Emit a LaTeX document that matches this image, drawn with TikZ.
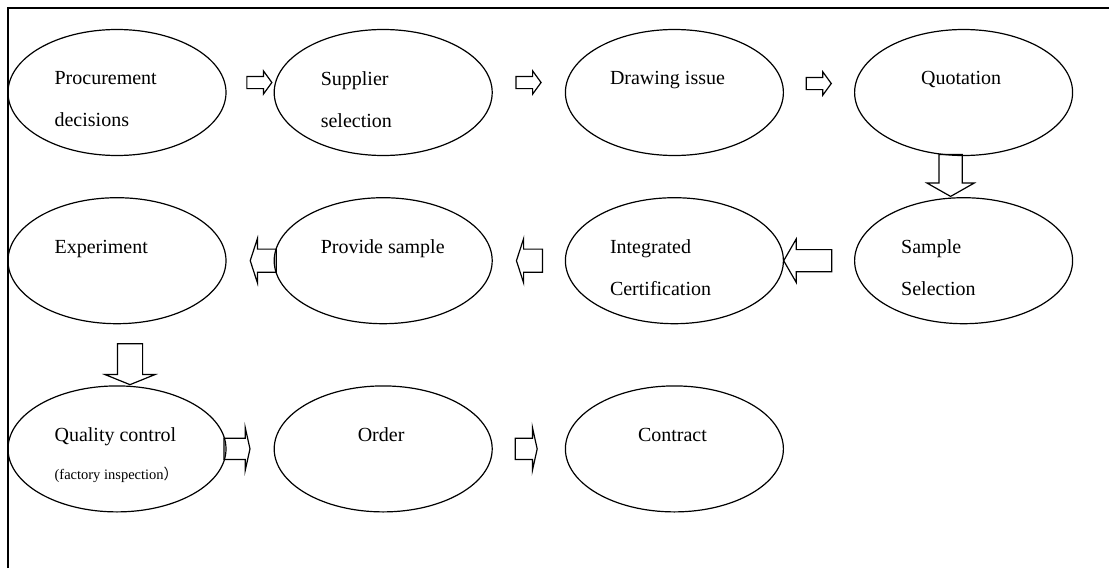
\documentclass[tikz,border=0pt]{standalone}
\usepackage{fontspec}
\setmainfont{Liberation Serif}
\newfontfamily\cjk{Noto Sans CJK SC}
\usetikzlibrary{positioning,shapes.geometric,shapes.arrows}

\tikzset{
  stage/.style={ellipse,draw,line width=1.2pt,minimum width=218pt,minimum height=126pt,inner sep=0pt},
  lbl/.style={font=\fontsize{20}{42}\selectfont,align=left,inner sep=0pt,anchor=north west},
  blk/.style={single arrow,draw,line width=1.2pt,inner xsep=0pt,single arrow head indent=0pt,anchor=tip},
  blkR/.style={blk,minimum height=25pt,inner ysep=5.5pt,minimum width=22pt,single arrow head extend=5.5pt,single arrow tip angle=108},
  blkL/.style={blk,rotate=180,minimum height=26pt,inner ysep=11pt,minimum width=43pt,single arrow head extend=10.5pt,single arrow tip angle=144},
  blkQ/.style={blk,inner ysep=10pt,minimum width=42pt,single arrow head extend=11pt,single arrow tip angle=155}
}

\begin{document}
\begin{tikzpicture}[x=1pt,y=-1pt,node distance=47pt]
  \useasboundingbox (0,0) rectangle (1109,568);
  % frame
  \draw[line width=1.4pt] (8,568) -- (8,7.5);
  \draw[line width=2pt] (7,7.5) -- (1109,7.5);

  % row 1
  \node[stage] (pd) at (117,92.5) {};
  \node[stage,right=of pd] (ss) {};
  \node[stage,right=72pt of ss] (di) {};
  \node[stage,right=70pt of di] (qt) {};
  % row 2
  \node[stage,below=41pt of qt] (sps) {};
  \node[stage,left=70pt of sps] (ic) {};
  \node[stage,left=72pt of ic] (ps) {};
  \node[stage,left=of ps] (ex) {};
  % row 3
  \node[stage,below=61pt of ex] (qc) {};
  \node[stage,right=of qc] (od) {};
  \node[stage,right=72pt of od] (ct) {};

  % labels
  \node[lbl] (pdt) at ([xshift=47pt,yshift=21pt]pd.west) {Procurement\\decisions};
  \node[lbl] (sst) at ([xshift=47pt,yshift=21pt]ss.west) {Supplier\\selection};
  \node[lbl] (dit) at ([xshift=45pt,yshift=21pt]di.west) {Drawing issue};
  \node[lbl] (qtt) at ([xshift=67pt,yshift=21pt]qt.west) {Quotation};
  \node[lbl] (spst) at ([xshift=47pt,yshift=21pt]sps.west) {Sample\\Selection};
  \node[lbl] (ict) at ([xshift=45pt,yshift=21pt]ic.west) {Integrated\\Certification};
  \node[lbl] (pst) at ([xshift=47pt,yshift=21pt]ps.west) {Provide sample};
  \node[lbl] (ext) at ([xshift=47pt,yshift=21pt]ex.west) {Experiment};
  \node[lbl] (qct) at ([xshift=47pt,yshift=21pt]qc.west) {Quality control};
  \node[lbl,anchor=base west,font=\fontsize{14.5}{17}\selectfont] (qcf) at ([xshift=47pt,yshift=-31pt]qc.west) {(factory inspection{\cjk ）}};
  \node[lbl] (odt) at ([xshift=84pt,yshift=21pt]od.west) {Order};
  \node[lbl] (ctt) at ([xshift=73pt,yshift=21pt]ct.west) {Contract};

  % block arrows
  \node[blkR] (a1) at ([xshift=-1pt,yshift=10pt]ss.west) {};
  \node[blkR] (a2) at ([xshift=-23pt,yshift=10pt]di.west) {};
  \node[blkR] (a3) at ([xshift=-22pt,yshift=9pt]qt.west) {};
  \node[blk,rotate=-90,minimum height=42pt,inner ysep=11pt,minimum width=46pt,single arrow head extend=12pt,single arrow tip angle=121] (a4) at ([xshift=-13pt]sps.north) {};
  \node[blk,rotate=180,minimum height=48pt,inner ysep=10.5pt,minimum width=42pt,single arrow head extend=10.5pt,single arrow tip angle=120] (a5) at ([xshift=-1pt]ic.east) {};
  \node[blkL] (a6) at ([xshift=23pt]ps.east) {};
  \node[blkL] (a7) at ([xshift=23pt]ex.east) {};
  \node[blk,rotate=-90,minimum height=41pt,inner ysep=12pt,minimum width=49pt,single arrow head extend=12.5pt,single arrow tip angle=136] (a8) at ([xshift=13pt]qc.north) {};
  \node[blkQ,minimum height=26pt] (a9) at ([xshift=-23pt]od.west) {};
  \node[blkQ,minimum height=22pt] (a10) at ([xshift=-27pt]ct.west) {};
\end{tikzpicture}
\end{document}
